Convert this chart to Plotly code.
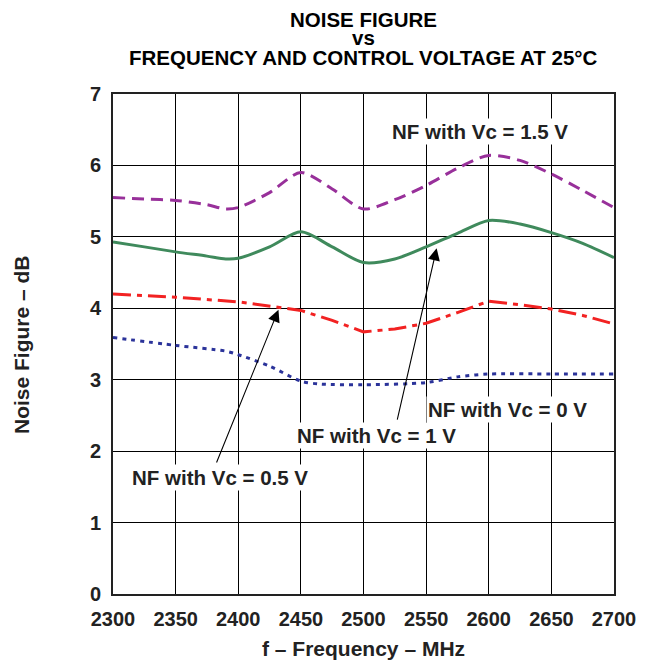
import plotly.graph_objects as go

freq_mhz = [2300, 2325, 2350, 2375, 2390, 2400, 2425, 2450, 2475, 2500, 2525, 2550, 2575, 2600, 2625, 2650, 2675, 2700]

nf_vc_1p5 = [5.55, 5.53, 5.51, 5.45, 5.39, 5.41, 5.62, 5.90, 5.67, 5.39, 5.52, 5.72, 5.96, 6.14, 6.07, 5.88, 5.65, 5.41]
nf_vc_1 = [4.93, 4.86, 4.79, 4.73, 4.69, 4.70, 4.86, 5.07, 4.86, 4.64, 4.69, 4.86, 5.05, 5.23, 5.18, 5.06, 4.91, 4.71]

freq_red = [2300, 2350, 2400, 2425, 2450, 2475, 2500, 2525, 2550, 2575, 2600, 2625, 2650, 2675, 2700]
nf_vc_0p5 = [4.20, 4.155, 4.09, 4.03, 3.97, 3.83, 3.67, 3.71, 3.79, 3.94, 4.10, 4.05, 3.99, 3.90, 3.78]

freq_blue = [2300, 2350, 2390, 2400, 2425, 2450, 2465, 2500, 2550, 2575, 2600, 2650, 2700]
nf_vc_0 = [3.59, 3.48, 3.40, 3.35, 3.19, 2.98, 2.94, 2.93, 2.96, 3.04, 3.08, 3.08, 3.08]

x_ticks = [2300, 2350, 2400, 2450, 2500, 2550, 2600, 2650, 2700]
y_ticks = [0, 1, 2, 3, 4, 5, 6, 7]

FONT = "Liberation Sans, Arial, sans-serif"
TXT = "#222222"

# plot area on screen: x 113..614, y 94..594 (page has 8px body margin)
PL, PR, PT, PB = 113, 614, 94, 594
FIG_W, FIG_H = 640, 654
OFF = 8


def px_to_paper(px, py):
    return (px - PL) / (PR - PL), (PB - py) / (PB - PT)


fig = go.Figure()
fig.add_trace(go.Scatter(x=freq_mhz, y=nf_vc_1p5, mode="lines",
                         line=dict(color="#98309A", width=3, dash="12px,7px", shape="spline", smoothing=0.8)))
fig.add_trace(go.Scatter(x=freq_mhz, y=nf_vc_1, mode="lines",
                         line=dict(color="#3F8A5C", width=3, shape="spline", smoothing=0.8)))
fig.add_trace(go.Scatter(x=freq_red, y=nf_vc_0p5, mode="lines",
                         line=dict(color="#F22222", width=3, dash="18px,6px,5px,6px")))
fig.add_trace(go.Scatter(x=freq_blue, y=nf_vc_0, mode="lines",
                         line=dict(color="#2B339A", width=3, dash="4px,5px", shape="spline", smoothing=0.8)))

# arrows (drawn first so labels sit over them)
arrows = [((2558.4, 4.84), (2526.7, 2.42)), ((2432.1, 3.98), (2382.2, 1.82))]
for (tx, ty), (sx, sy) in arrows:
    fig.add_annotation(x=tx, y=ty, ax=sx, ay=sy, xref="x", yref="y", axref="x", ayref="y",
                       text="", showarrow=True, arrowhead=2, arrowsize=2.2, arrowwidth=1.1,
                       arrowcolor="black", standoff=0)

ann_font = dict(family=FONT, size=20.5, color=TXT)
labels = [
    ("NF with Vc = 1.5 V", 480, 132),
    ("NF with Vc = 0 V", 507, 409),
    ("NF with Vc = 1 V", 376, 436),
    ("NF with Vc = 0.5 V", 220, 477),
]
for txt, px, py in labels:
    ax_, ay_ = px_to_paper(px, py)
    fig.add_annotation(text="<b>%s</b>" % txt, xref="paper", yref="paper",
                       x=ax_, y=ay_, xanchor="center", yanchor="middle", showarrow=False,
                       font=ann_font, bgcolor="white", borderpad=1)

# title lines
title_lines = [("NOISE FIGURE", 19), ("vs", 37.5), ("FREQUENCY AND CONTROL VOLTAGE AT 25°C", 58)]
for txt, py in title_lines:
    tx, ty = px_to_paper(363.5, py)
    fig.add_annotation(text="<b>%s</b>" % txt, xref="paper", yref="paper", x=tx, y=ty,
                       xanchor="center", yanchor="middle", showarrow=False,
                       font=dict(family=FONT, size=20.5, color="black"))

# axis titles
tx, ty = px_to_paper(363.5, 648)
fig.add_annotation(text="<b>f – Frequency – MHz</b>", xref="paper", yref="paper", x=tx, y=ty,
                   xanchor="center", yanchor="middle", showarrow=False,
                   font=dict(family=FONT, size=21, color=TXT))
tx, ty = px_to_paper(21, 345)
fig.add_annotation(text="<b>Noise Figure – dB</b>", xref="paper", yref="paper", x=tx, y=ty,
                   xanchor="center", yanchor="middle", showarrow=False, textangle=-90,
                   font=dict(family=FONT, size=21, color=TXT))

fig.update_layout(
    width=FIG_W, height=FIG_H,
    margin=dict(l=PL - OFF, r=FIG_W - (PR - OFF), t=PT - OFF, b=FIG_H - (PB - OFF)),
    paper_bgcolor="white", plot_bgcolor="white",
    showlegend=False,
    font=dict(family=FONT, color=TXT),
)
fig.update_xaxes(range=[2300, 2700], tickvals=x_ticks, ticktext=["<b>%d</b>" % v for v in x_ticks],
                 showgrid=True, gridcolor="black", gridwidth=1, zeroline=False,
                 showline=True, linecolor=TXT, linewidth=2, mirror=True,
                 ticks="outside", ticklen=6, tickcolor="rgba(0,0,0,0)",
                 tickfont=dict(family=FONT, size=20, color=TXT))
fig.update_yaxes(range=[0, 7], tickvals=y_ticks, ticktext=["<b>%d</b>" % v for v in y_ticks],
                 showgrid=True, gridcolor="black", gridwidth=1, zeroline=False,
                 showline=True, linecolor=TXT, linewidth=2, mirror=True,
                 ticks="outside", ticklen=6, tickcolor="rgba(0,0,0,0)",
                 tickfont=dict(family=FONT, size=20, color=TXT))

fig.write_html("out.html")
